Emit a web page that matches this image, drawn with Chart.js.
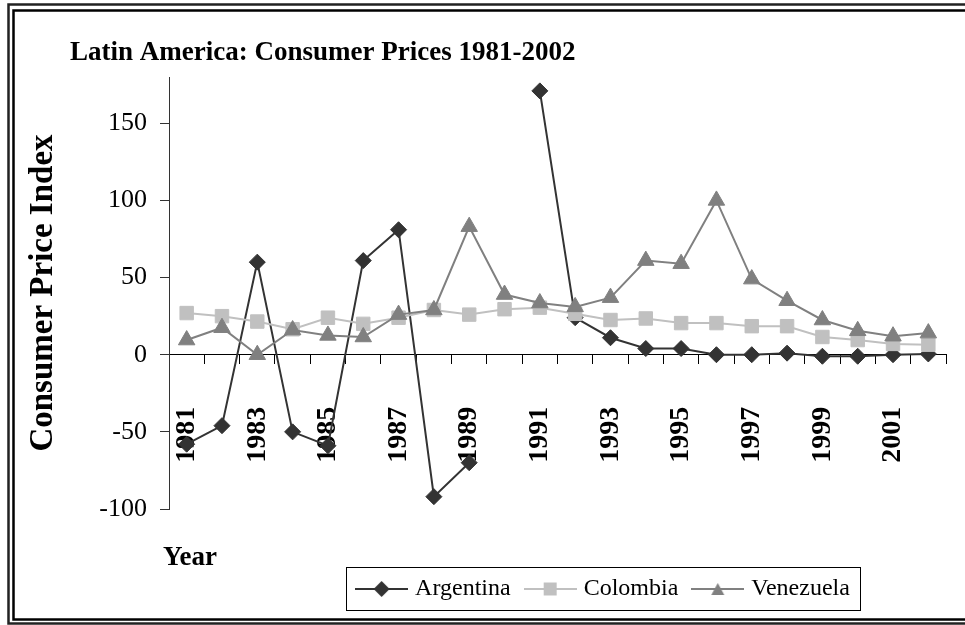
<!DOCTYPE html>
<html>
<head>
<meta charset="utf-8">
<title>Latin America: Consumer Prices 1981-2002</title>
<script src="https://cdn.jsdelivr.net/npm/chart.js@4.4.0/dist/chart.umd.min.js"></script>
<style>
  html, body { margin: 0; padding: 0; background: #fff; }
  #wrap { width: 965px; height: 625px; }
</style>
</head>
<body>
<div id="wrap"><canvas id="cpi-chart" width="965" height="625"></canvas></div>
<script>
const years = ["1981", "1982", "1983", "1984", "1985", "1986", "1987", "1988", "1989", "1990", "1991",
  "1992", "1993", "1994", "1995", "1996", "1997", "1998", "1999", "2000", "2001", "2002"];

const argentina = [-58, -46, 60, -50, -59, 61, 81, -92, -70, null, 171,
  24, 11, 4, 4, 0, 0, 1, -1, -1, 0, 0.5];
const colombia = [27, 25, 21.5, 16.5, 24, 20, 24, 29, 26, 29.5, 30.5,
  26.5, 22.5, 23.5, 20.5, 20.5, 18.5, 18.5, 11.5, 9.5, 7, 6.5];
const venezuela = [9.5, 17.5, 0, 16, 12.5, 11.5, 26, 29, 83, 39, 33.5,
  31, 37, 61, 59, 100, 49, 35, 22.5, 15.5, 12, 14];

const yTicks = [-100, -50, 0, 50, 100, 150];

const SERIF = '"Liberation Serif", "Times New Roman", serif';
Chart.defaults.font.family = SERIF;
Chart.defaults.color = "#000";

// little "line + marker" pictures for the legend
function legendSymbol(color, shape) {
  const c = document.createElement("canvas");
  c.width = 53;
  c.height = 20;
  const g = c.getContext("2d");
  g.strokeStyle = color;
  g.lineWidth = 2;
  g.beginPath();
  g.moveTo(0, 10);
  g.lineTo(53, 10);
  g.stroke();
  g.fillStyle = color;
  g.beginPath();
  if (shape === "diamond") {
    g.moveTo(26.5, 2); g.lineTo(34.5, 10); g.lineTo(26.5, 18); g.lineTo(18.5, 10);
  } else if (shape === "square") {
    g.rect(20, 3.5, 13, 13);
  } else {
    g.moveTo(26.5, 4); g.lineTo(33, 16); g.lineTo(20, 16);
  }
  g.closePath();
  g.fill();
  return c;
}

const symbols = [
  legendSymbol("#333333", "diamond"),
  legendSymbol("#c0c0c0", "square"),
  legendSymbol("#808080", "triangle"),
];

const decor = {
  id: "decor",
  beforeDraw(chart) {
    const c = chart.ctx;
    c.save();
    c.fillStyle = "#fff";
    c.fillRect(0, 0, chart.width, chart.height);
    c.strokeStyle = "#222";
    c.lineWidth = 2.5;
    c.strokeRect(8.5, 4.5, 980, 619);
    c.strokeStyle = "#000";
    c.lineWidth = 2.5;
    c.strokeRect(13.5, 10.5, 980, 609);
    c.restore();
  },
  afterLayout(chart) {
    // legend box sits right of centre in the original
    const lg = chart.legend;
    const dx = 605 - (lg.left + lg.right) / 2;
    const dy = 559 - lg.top;
    lg.left += dx; lg.right += dx;
    lg.top += dy; lg.bottom += dy;
  },
  afterDraw(chart) {
    const c = chart.ctx;
    c.save();
    c.fillStyle = "#000";
    c.textBaseline = "alphabetic";
    c.textAlign = "left";
    c.font = "bold 27px " + SERIF;
    c.fillText("Latin America: Consumer Prices 1981-2002", 70, 59.5);
    c.fillText("Year", 163, 565);

    const lg = chart.legend;
    const hb = lg.legendHitBoxes;
    if (hb && hb.length) {
      const bw = lg.options.labels.pointStyleWidth;
      const first = hb[0];
      const last = hb[hb.length - 1];
      const x0 = Math.round(first.left + bw / 2 - 26.5 - 9);
      const x1 = Math.round(last.left + last.width + 10);
      const cy = Math.round(first.top + 12);
      c.strokeStyle = "#000";
      c.lineWidth = 1;
      c.strokeRect(x0 + 0.5, cy - 22 + 0.5, x1 - x0, 43);
    }
    c.restore();
  },
};

const ctx = document.getElementById("cpi-chart").getContext("2d");

const cpiChart = new Chart(ctx, {
  type: "line",
  data: {
    labels: years,
    datasets: [
      {
        label: "Argentina",
        data: argentina,
        borderColor: "#333333",
        backgroundColor: "#333333",
        borderWidth: 2,
        pointStyle: "rectRot",
        pointRadius: 8,
        pointBorderWidth: 1,
        order: 3,
      },
      {
        label: "Colombia",
        data: colombia,
        borderColor: "#c0c0c0",
        backgroundColor: "#c0c0c0",
        borderWidth: 2,
        pointStyle: "rect",
        pointRadius: 9.5,
        pointBorderWidth: 1,
        order: 2,
      },
      {
        label: "Venezuela",
        data: venezuela,
        borderColor: "#808080",
        backgroundColor: "#808080",
        borderWidth: 2,
        pointStyle: "triangle",
        pointRadius: 9.5,
        pointBorderWidth: 1,
        order: 1,
      },
    ],
  },
  options: {
    responsive: false,
    animation: false,
    devicePixelRatio: 1,
    layout: { padding: { left: 24, right: 19, top: 77, bottom: 64 } },
    plugins: {
      title: { display: false },
      tooltip: { enabled: false },
      legend: {
        position: "bottom",
        labels: {
          usePointStyle: true,
          pointStyleWidth: 43,
          padding: 18,
          color: "#000",
          font: { family: SERIF, size: 24 },
          generateLabels(chart) {
            return chart.data.datasets.map((ds, i) => ({
              text: ds.label,
              pointStyle: symbols[i],
              fillStyle: ds.backgroundColor,
              strokeStyle: ds.borderColor,
              lineWidth: 0,
              hidden: false,
              datasetIndex: i,
            }));
          },
        },
      },
    },
    scales: {
      x: {
        position: { y: 0 },
        offset: true,
        grid: { offset: true, drawOnChartArea: false, tickLength: 9, color: "#000" },
        border: { color: "#000", width: 1 },
        ticks: {
          autoSkip: false,
          minRotation: 90,
          maxRotation: 90,
          padding: 43,
          color: "#000",
          font: { family: SERIF, size: 28, weight: "bold" },
          callback: function (value, index) {
            return index % 2 === 0 ? this.getLabelForValue(value) : "";
          },
        },
        afterFit(scale) {
          // the axis sits at y = 0 inside the plot, so it takes no room
          scale.height = 0;
          scale.paddingLeft = 0;
          scale.paddingRight = 0;
        },
      },
      y: {
        min: -100,
        max: 180,
        afterBuildTicks(scale) {
          scale.ticks = yTicks.map((v) => ({ value: v }));
        },
        afterFit(scale) {
          scale.width = 145;
        },
        grid: { drawOnChartArea: false, tickLength: 9, color: "#333" },
        border: { color: "#333", width: 1 },
        ticks: {
          padding: 13,
          color: "#000",
          font: { family: SERIF, size: 26 },
        },
        title: {
          display: true,
          text: "Consumer Price Index",
          color: "#000",
          padding: 0,
          font: { family: SERIF, size: 33, weight: "bold" },
        },
      },
    },
  },
  plugins: [decor],
});
</script>
</body>
</html>
